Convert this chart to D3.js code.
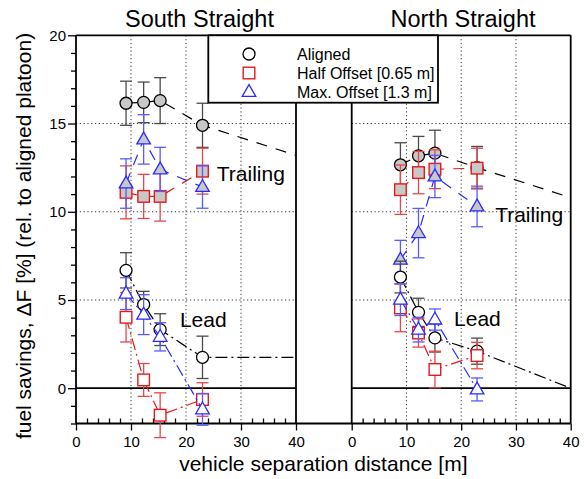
<!DOCTYPE html>
<html><head><meta charset="utf-8">
<script src="https://cdn.jsdelivr.net/npm/d3@7"></script>
<style>
html,body{margin:0;padding:0;background:#fff;}
svg{display:block;font-family:"Liberation Sans",Arial,sans-serif;}
</style></head>
<body>
<svg id="chart" width="584" height="479"></svg>
<script>
// ---------- data ----------
const panels = ["South Straight", "North Straight"];
const seriesNames = ["Aligned", "Half Offset [0.65 m]", "Max. Offset [1.3 m]"];
const xTicks = [0, 10, 20, 30, 40];
const yTicks = [0, 5, 10, 15, 20];

const southDist = [9.1, 12.3, 15.3, 23.0];
const northDist = [8.9, 12.2, 15.2, 22.9];

// South Straight — trailing
const southTrailAligned = [16.15, 16.2, 16.3, 14.9];
const southTrailAlignedErr = [1.25, 1.15, 1.3, 1.25];
const southTrailHalf = [11.1, 10.87, 10.87, 12.3];
const southTrailHalfErr = [1.5, 1.25, 1.4, 1.3];
const southTrailMax = [11.6, 14.1, 12.4, 11.4];
const southTrailMaxErr = [1.4, 1.4, 1.25, 1.2];
// South Straight — lead
const southLeadAligned = [6.68, 4.74, 3.32, 1.75];
const southLeadAlignedErr = [1.0, 0.75, 0.9, 1.2];
const southLeadHalf = [4.02, 0.47, -1.53, -0.64];
const southLeadHalfErr = [1.4, 0.93, 1.27, 0.95];
const southLeadMax = [5.36, 4.17, 2.91, -1.2];
const southLeadMaxErr = [0.9, 1.13, 0.8, 0.9];

// North Straight — trailing
const northTrailAligned = [12.66, 13.17, 13.32, 12.5];
const northTrailAlignedErr = [1.25, 1.1, 1.3, 1.2];
const northTrailHalf = [11.25, 12.22, 12.41, 12.47];
const northTrailHalfErr = [1.4, 1.2, 1.1, 1.13];
const northTrailMax = [7.28, 8.79, 12.0, 10.3];
const northTrailMaxErr = [1.1, 1.4, 1.2, 1.15];
// North Straight — lead
const northLeadAligned = [6.3, 4.3, 2.85, 2.1];
const northLeadAlignedErr = [0.9, 0.8, 0.8, 0.74];
const northLeadHalf = [4.55, 3.13, 1.06, 1.85];
const northLeadHalfErr = [1.35, 0.8, 1.04, 0.75];
const northLeadMax = [5.02, 3.32, 3.89, -0.07];
const northLeadMaxErr = [0.9, 0.7, 0.6, 0.65];

// aligned trend extensions to 40 m
const southTrailExt = [40, 13.2];
const southLeadExt = [40, 1.75];
const northTrailExt = [40, 10.8];
const northLeadExt = [40, 0.0];

// ---------- layout ----------
const svg = d3.select("#chart");
const yTop = 35.3, yBot = 423.5;
const y = d3.scaleLinear().domain([-2, 20]).range([yBot, yTop]);
const xS = d3.scaleLinear().domain([0, 40]).range([76, 296]);
const xN = d3.scaleLinear().domain([0, 40]).range([351.7, 570.7]);
const xScales = [xS, xN];
const titleCenters = [199.5, 463];

const colors = ["#000000", "#e31a1c", "#2a2aff"];
const barColors = ["#4a4a4a", "#e8474a", "#5a5aff"];
const trailDash = "11,9";
const leadDash = "12,4,2,4";

// grid
const grid = svg.append("g");
xScales.forEach(x => {
  [10, 20, 30].forEach(v => {
    grid.append("line").attr("x1", x(v)).attr("x2", x(v)).attr("y1", yTop).attr("y2", yBot)
      .attr("stroke", "#333").attr("stroke-width", 1).attr("stroke-dasharray", "1.2,2.6");
  });
  [5, 10, 15].forEach(v => {
    grid.append("line").attr("x1", x(0)).attr("x2", x(40)).attr("y1", y(v)).attr("y2", y(v))
      .attr("stroke", "#333").attr("stroke-width", 1).attr("stroke-dasharray", "1.2,2.6");
  });
  grid.append("line").attr("x1", x(0)).attr("x2", x(40)).attr("y1", y(0)).attr("y2", y(0))
    .attr("stroke", "#000").attr("stroke-width", 1.8);
});

// frame
const frame = svg.append("g").attr("stroke", "#000").attr("stroke-width", 1.8);
frame.append("line").attr("x1", xS(0)).attr("x2", xN(40)).attr("y1", yTop).attr("y2", yTop);
frame.append("line").attr("x1", xS(0)).attr("x2", xN(40)).attr("y1", yBot).attr("y2", yBot);
[xS(0), xS(40), xN(0), xN(40)].forEach(px => {
  frame.append("line").attr("x1", px).attr("x2", px).attr("y1", yTop).attr("y2", yBot);
});

// axes
function styleAxis(g) {
  g.select(".domain").remove();
  g.selectAll(".tick line").attr("stroke", "#000").attr("stroke-width", 1.3);
  g.selectAll(".tick text").attr("font-size", 15).attr("font-family", "Liberation Sans, Arial, sans-serif").attr("fill", "#000");
}
xScales.forEach(x => {
  const gMaj = svg.append("g").attr("transform", `translate(0,${yBot})`)
    .call(d3.axisBottom(x).tickValues(xTicks).tickSize(7).tickPadding(6).tickFormat(d3.format("d")));
  styleAxis(gMaj);
  const gMin = svg.append("g").attr("transform", `translate(0,${yBot})`)
    .call(d3.axisBottom(x).tickValues(d3.range(2, 40, 2).filter(v => v % 10 !== 0)).tickSize(-5).tickFormat(""));
  styleAxis(gMin);
});
const gY = svg.append("g").attr("transform", `translate(${xS(0)},0)`)
  .call(d3.axisLeft(y).tickValues(yTicks).tickSize(8).tickPadding(2).tickFormat(d3.format("d")));
styleAxis(gY);
const gYm = svg.append("g").attr("transform", `translate(${xS(0)},0)`)
  .call(d3.axisLeft(y).tickValues(d3.range(-2, 20, 1).filter(v => v % 5 !== 0)).tickSize(5).tickFormat(""));
styleAxis(gYm);

// series
const panelData = [
  {x: xS, dist: southDist,
   trail: [[southTrailAligned, southTrailAlignedErr], [southTrailHalf, southTrailHalfErr], [southTrailMax, southTrailMaxErr]],
   lead: [[southLeadAligned, southLeadAlignedErr], [southLeadHalf, southLeadHalfErr], [southLeadMax, southLeadMaxErr]],
   trailExt: southTrailExt, leadExt: southLeadExt},
  {x: xN, dist: northDist,
   trail: [[northTrailAligned, northTrailAlignedErr], [northTrailHalf, northTrailHalfErr], [northTrailMax, northTrailMaxErr]],
   lead: [[northLeadAligned, northLeadAlignedErr], [northLeadHalf, northLeadHalfErr], [northLeadMax, northLeadMaxErr]],
   trailExt: northTrailExt, leadExt: northLeadExt}
];

function marker(g, type, cx, cy, fill, color) {
  if (type === 0) {
    g.append("circle").attr("cx", cx).attr("cy", cy).attr("r", 6)
      .attr("fill", fill).attr("stroke", color).attr("stroke-width", 1.3);
  } else if (type === 1) {
    g.append("rect").attr("x", cx - 5.8).attr("y", cy - 5.8).attr("width", 11.6).attr("height", 11.6)
      .attr("fill", fill).attr("stroke", color).attr("stroke-width", 1.4);
  } else {
    const s = d3.symbol().type(d3.symbolTriangle).size(80);
    g.append("path").attr("d", s()).attr("transform", `translate(${cx},${cy + 0.5})`)
      .attr("fill", fill).attr("stroke", color).attr("stroke-width", 1.3);
  }
}

const plotG = svg.append("g");
panelData.forEach(p => {
  const x = p.x;
  [["trail", trailDash, "#c8c8c8", p.trailExt], ["lead", leadDash, "#ffffff", p.leadExt]].forEach(([key, dash, fill, ext]) => {
    p[key].forEach(([vals, errs], si) => {
      const g = plotG.append("g");
      const pts = vals.map((v, i) => [p.dist[i], v]);
      if (si === 0) pts.push(ext);
      const line = d3.line().x(d => x(d[0])).y(d => y(d[1]));
      g.append("path").attr("d", line(pts)).attr("fill", "none")
        .attr("stroke", colors[si]).attr("stroke-width", 1.2).attr("stroke-dasharray", dash);
      vals.forEach((v, i) => {
        const cx = x(p.dist[i]);
        const y1 = y(v + errs[i]), y2 = y(v - errs[i]);
        g.append("line").attr("x1", cx).attr("x2", cx).attr("y1", y1).attr("y2", y2)
          .attr("stroke", barColors[si]).attr("stroke-width", 1.3);
        [y1, y2].forEach(yy => g.append("line").attr("x1", cx - 6).attr("x2", cx + 6).attr("y1", yy).attr("y2", yy)
          .attr("stroke", barColors[si]).attr("stroke-width", 1.3));
      });
      vals.forEach((v, i) => marker(g, si, x(p.dist[i]), y(v), fill, colors[si]));
    });
  });
});

// annotations
const ann = svg.append("g").attr("font-size", 21).attr("fill", "#000");
ann.append("text").attr("x", xS(25.6)).attr("y", y(11.76)).text("Trailing");
ann.append("text").attr("x", xS(18.9)).attr("y", y(3.49)).text("Lead");
ann.append("text").attr("x", xN(26.2)).attr("y", y(9.44)).text("Trailing");
ann.append("text").attr("x", xN(18.7)).attr("y", y(3.52)).text("Lead");

// legend
const lg = svg.append("g");
lg.append("rect").attr("x", 208.3).attr("y", yTop).attr("width", 438 - 208.3).attr("height", 102.7 - yTop)
  .attr("fill", "#fff").attr("stroke", "#000").attr("stroke-width", 1.8);
seriesNames.forEach((name, i) => {
  const ly = 54 + i * 19;
  marker(lg, i, 249, ly, "#ffffff", colors[i]);
  lg.append("text").attr("x", 297).attr("y", ly + 5.5).attr("font-size", 16).text(name);
});

// titles
panels.forEach((t, i) => {
  svg.append("text").attr("x", titleCenters[i]).attr("y", 27).attr("text-anchor", "middle")
    .attr("font-size", 23.5).text(t);
});
svg.append("text").attr("x", (xS(0) + xN(40)) / 2).attr("y", 471).attr("text-anchor", "middle")
  .attr("font-size", 21).text("vehicle separation distance [m]");
svg.append("text").attr("transform", `translate(31,236) rotate(-90)`).attr("text-anchor", "middle")
  .attr("font-size", 21).text("fuel savings, ΔF [%] (rel. to aligned platoon)");
</script>
</body></html>
